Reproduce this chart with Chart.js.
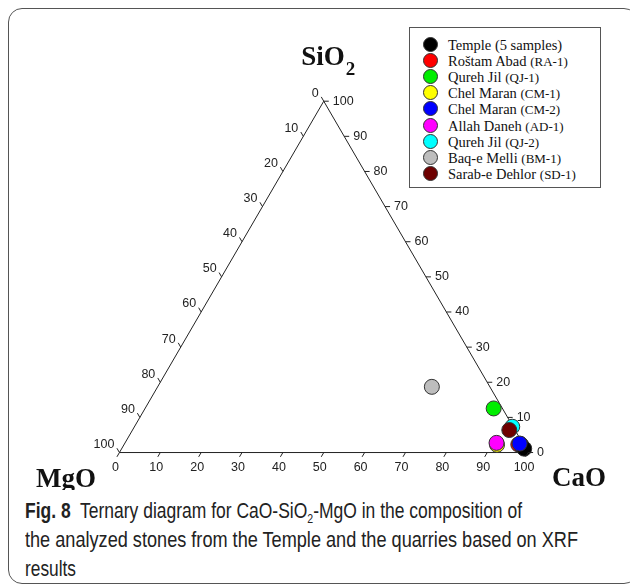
<!DOCTYPE html>
<html>
<head>
<meta charset="utf-8">
<script src="https://cdn.jsdelivr.net/npm/chart.js@4"></script>
<style>
  body { margin: 0; background: #fff; }
  #wrap { position: relative; width: 630px; height: 588px; overflow: hidden; }
  #frame { position: absolute; left: 8px; top: 8px; width: 630px; height: 576px;
           border: 1.5px solid #555; border-radius: 14px; box-sizing: border-box; }
  #chart { position: absolute; left: 0; top: 0; }
  #legend { position: absolute; left: 409px; top: 27px; width: 192px; height: 161px;
            border: 1px solid #555; box-sizing: border-box; background: #fff;
            font-family: 'Liberation Serif', 'Times New Roman', serif; color: #111; }
  .item { position: absolute; left: 0; height: 16px; line-height: 16px; white-space: nowrap; }
  .dot { position: absolute; left: 13px; top: 0; width: 15px; height: 15px; border-radius: 50%;
         border: 1px solid #333; box-sizing: border-box; }
  .name { position: absolute; left: 38px; top: 0; font-size: 14.5px; }
  .code { font-size: 13px; }
  #caption { position: absolute; left: 25px; top: 497px;
             font-family: 'Liberation Sans', Arial, sans-serif;
             font-size: 21.5px; line-height: 29px; color: #222; }
  #caption .line { display: block; white-space: nowrap; transform-origin: 0 50%; width: max-content; }
  #caption sub { font-size: 13px; line-height: 0; }
</style>
</head>
<body>
<div id="wrap">
  <div id="frame"></div>
  <canvas id="chart" width="630" height="490"></canvas>
  <div id="legend"></div>
  <div id="caption">
    <span class="line" data-w="497"><b>Fig. 8</b>&nbsp; Ternary diagram for CaO-SiO<sub>2</sub>-MgO in the composition of</span>
    <span class="line" data-w="553">the analyzed stones from the Temple and the quarries based on XRF</span>
    <span class="line" data-w="51">results</span>
  </div>
</div>
<script>
// Samples (wt% of CaO, SiO2, MgO)
const sampleNames = ['Temple', 'Roštam Abad', 'Qureh Jil', 'Chel Maran', 'Chel Maran',
                     'Allah Daneh', 'Qureh Jil', 'Baq-e Melli', 'Sarab-e Dehlor'];
const sampleCodes = ['(5 samples)', '(RA-1)', '(QJ-1)', '(CM-1)', '(CM-2)',
                     '(AD-1)', '(QJ-2)', '(BM-1)', '(SD-1)'];
const sampleColors = ['#000000', '#ff0000', '#00ee00', '#ffff00', '#0000ff',
                      '#ff00ff', '#00ffff', '#bdbdbd', '#6e0000'];
const cao  = [[96.85, 97.2, 97.75, 98.1, 98.5], [96.45], [85.3], [91.3], [96.65], [90.9], [92.45], [67.1], [92.2]];
const sio2 = [[2.47, 2.2, 1.65, 1.37, 1.1],     [2.3],   [12.55], [2.2], [2.55],  [2.75], [7.34],  [18.7], [6.4]];
const mgo  = [[0.68, 0.6, 0.6, 0.53, 0.4],      [1.25],  [2.15], [6.5],  [0.8],   [6.35], [0.21],  [14.2], [1.4]];
// bottom-most first
const drawSequence = [1, 0, 4, 3, 5, 6, 8, 2, 7];

const axisTicks = [0, 10, 20, 30, 40, 50, 60, 70, 80, 90, 100];

const H = Math.sqrt(3) / 2;
// ternary -> cartesian (CaO to the right, SiO2 at the top)
function toXY(c, s, m) {
    const t = c + s + m;
    return { x: 100 * (c + s / 2) / t, y: 100 * H * s / t };
}

const triangle = [toXY(0, 0, 100), toXY(100, 0, 0), toXY(0, 100, 0), toXY(0, 0, 100)];

const datasets = [{
    data: triangle,
    showLine: true,
    borderColor: '#222',
    borderWidth: 1,
    pointRadius: 0,
    order: 100,
}];
sampleNames.forEach((n, i) => {
    datasets.push({
        label: n + ' ' + sampleCodes[i],
        data: cao[i].map((c, k) => toXY(c, sio2[i][k], mgo[i][k])),
        backgroundColor: sampleColors[i],
        borderColor: '#333',
        borderWidth: 1,
        pointRadius: 7.5,
        order: 50 - drawSequence.indexOf(i),
    });
});

const ternaryAxes = {
    id: 'ternaryAxes',
    afterDatasetsDraw(chart) {
        const { ctx, scales: { x, y } } = chart;
        const px = p => ({ x: x.getPixelForValue(p.x), y: y.getPixelForValue(p.y) });
        ctx.save();
        ctx.strokeStyle = '#222';
        ctx.lineWidth = 1;
        ctx.fillStyle = '#222';
        ctx.font = '12.5px "Liberation Sans", Arial, sans-serif';
        ctx.textBaseline = 'middle';
        axisTicks.forEach(v => {
            // bottom: CaO
            let p = px(toXY(v, 0, 100 - v));
            ctx.beginPath(); ctx.moveTo(p.x, p.y); ctx.lineTo(p.x - 2.5, p.y + 4.3); ctx.stroke();
            ctx.textAlign = 'center';
            ctx.fillText(String(v), p.x - 4, p.y + 15);
            // left: MgO
            p = px(toXY(0, 100 - v, v));
            ctx.beginPath(); ctx.moveTo(p.x, p.y); ctx.lineTo(p.x - 2.5, p.y - 4.3); ctx.stroke();
            ctx.textAlign = 'right';
            ctx.fillText(String(v), p.x - 5, p.y - 8);
            // right: SiO2
            p = px(toXY(100 - v, v, 0));
            ctx.beginPath(); ctx.moveTo(p.x, p.y); ctx.lineTo(p.x + 5, p.y); ctx.stroke();
            ctx.textAlign = 'left';
            ctx.fillText(String(v), p.x + 9, p.y);
        });
        // corner titles
        ctx.fillStyle = '#111';
        ctx.textBaseline = 'alphabetic';
        const big = 'bold 27px "Liberation Serif", "Times New Roman", serif';
        ctx.font = big;
        const top = px(toXY(0, 100, 0));
        ctx.textAlign = 'right';
        ctx.fillText('SiO', top.x + 21, 65);
        ctx.font = 'bold 19px "Liberation Serif", "Times New Roman", serif';
        ctx.textAlign = 'left';
        ctx.fillText('2', top.x + 22, 75);
        ctx.font = big;
        ctx.fillText('MgO', 36, 487);
        ctx.fillText('CaO', 552, 486);
        ctx.restore();
    }
};

new Chart(document.getElementById('chart'), {
    type: 'scatter',
    data: { datasets },
    options: {
        responsive: false,
        animation: false,
        layout: { padding: 0 },
        plugins: { legend: { display: false }, tooltip: { enabled: false } },
        scales: {
            x: { display: false, min: -27.143, max: 122.857 },
            y: { display: false, min: -7.14, max: 109.45 },
        },
    },
    plugins: [ternaryAxes],
});

// legend box
const legend = document.getElementById('legend');
sampleNames.forEach((n, i) => {
    const item = document.createElement('div');
    item.className = 'item';
    item.style.top = (9 + 16.1 * i) + 'px';
    const codeStyle = i === 0 ? ' style="font-size:14.5px"' : '';
    item.innerHTML = '<span class="dot" style="background:' + sampleColors[i] + '"></span>' +
        '<span class="name">' + n + ' <span class="code"' + codeStyle + '>' + sampleCodes[i] + '</span></span>';
    legend.appendChild(item);
});

// squeeze caption lines to the condensed width of the original typeface
document.querySelectorAll('#caption .line').forEach(el => {
    const w = el.getBoundingClientRect().width;
    el.style.transform = 'scaleX(' + (Number(el.dataset.w) / w) + ')';
});
</script>
</body>
</html>
